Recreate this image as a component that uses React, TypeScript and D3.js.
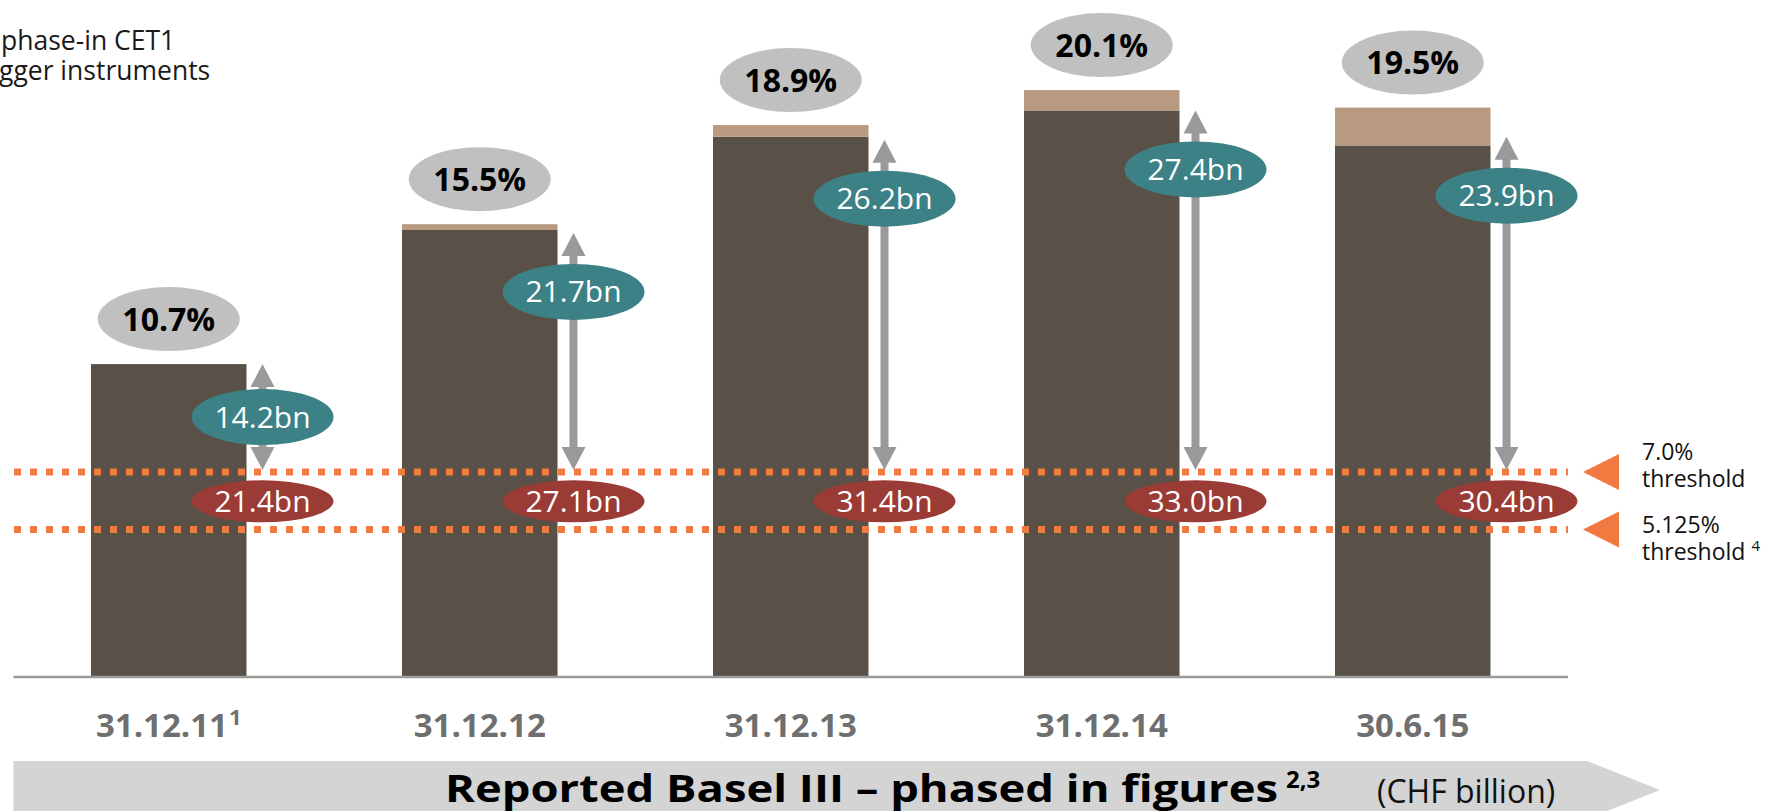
import React from "react";
import * as d3 from "d3";

const categories = ["31.12.11", "31.12.12", "31.12.13", "31.12.14", "30.6.15"];
const categoryNotes = ["1", "", "", "", ""];
const cet1Core = [10.7, 15.3, 18.5, 19.4, 18.2];
const cet1Extra = [0, 0.2, 0.4, 0.7, 1.3];
const bufferTop = [10.7, 15.2, 18.4, 19.4, 18.5];
const bufferBn = [14.2, 21.7, 26.2, 27.4, 23.9];
const thresholdBn = [21.4, 27.1, 31.4, 33.0, 30.4];
const thresholds = [7.0, 5.125];
const thresholdLabels = ["7.0%", "5.125%"];
const thresholdNotes = ["", "4"];
const legendLines = ["phase-in CET1", "gger instruments"];
const bandTitle = "Reported Basel III – phased in figures";
const bandTitleNote = "2,3";
const bandUnit = "(CHF billion)";

const W = 1765;
const H = 811;
const FONT = "'Open Sans', 'Noto Sans', sans-serif";

const C_CORE = "#595047";
const C_EXTRA = "#b89a80";
const C_GRAY_ELL = "#c0c0c0";
const C_TEAL = "#3c8185";
const C_RED = "#9a3c35";
const C_ORANGE = "#f07a3f";
const C_ARROW = "#9a9a9a";

export default function App() {
  const x = d3.scaleBand<string>().domain(categories).range([13.25, 1568.25]).paddingInner(0.5).paddingOuter(0.25);
  const y = d3.scaleLinear().domain([0, 20]).range([676, 93]);
  const bw = x.bandwidth();
  const yT0 = y(thresholds[0]);
  const yT1 = y(thresholds[1]);

  return (
    <svg width={W} height={H} style={{ position: "absolute", left: 0, top: 0, background: "#fff" }} fontFamily={FONT}>
      {/* legend (clipped) */}
      {legendLines.map((t, i) => (
        <text key={t} x={i === 0 ? 1 : -1} y={50 + i * 30} fontSize={26.5} fill="#1a1a1a">{t}</text>
      ))}

      {/* bars */}
      {categories.map((c, i) => {
        const x0 = x(c)!;
        const total = cet1Core[i] + cet1Extra[i];
        return (
          <g key={c}>
            <rect x={x0} width={bw} y={y(cet1Core[i])} height={y(0) - y(cet1Core[i])} fill={C_CORE} />
            {cet1Extra[i] > 0 && (
              <rect x={x0} width={bw} y={y(total)} height={y(cet1Core[i]) - y(total)} fill={C_EXTRA} />
            )}
          </g>
        );
      })}

      {/* axis line */}
      <line x1={13.5} x2={1568} y1={y(0) + 1} y2={y(0) + 1} stroke="#9a9a9a" strokeWidth={2.5} />

      {/* threshold dotted lines */}
      {thresholds.map((t, i) => (
        <line key={t} x1={14} x2={1568} y1={i === 0 ? yT0 : yT1 + 3} y2={i === 0 ? yT0 : yT1 + 3} stroke={C_ORANGE} strokeWidth={7} strokeDasharray="7 9" />
      ))}

      {/* arrows and labels */}
      {categories.map((c, i) => {
        const ax = x(c)! + bw + 16;
        const top = y(bufferTop[i]);
        const bot = yT0 - 2;
        const headH = 23;
        const headW = 12;
        const cy = Math.min((top + bot) / 2, top + 59);
        const total = cet1Core[i] + cet1Extra[i];
        const gy = y(total) - 45;
        const ry = (yT0 + yT1) / 2 + 2;
        return (
          <g key={c + "-ann"}>
            <line x1={ax} x2={ax} y1={top + headH - 1} y2={bot - headH + 1} stroke={C_ARROW} strokeWidth={8} />
            <path d={`M${ax},${top} L${ax + headW},${top + headH} L${ax - headW},${top + headH} Z`} fill={C_ARROW} />
            <path d={`M${ax},${bot} L${ax + headW},${bot - headH} L${ax - headW},${bot - headH} Z`} fill={C_ARROW} />
            <ellipse cx={ax} cy={cy} rx={71} ry={28} fill={C_TEAL} />
            <text x={ax} y={cy + 10.5} textAnchor="middle" fontSize={30} fill="#fff">{bufferBn[i].toFixed(1)}bn</text>
            <ellipse cx={ax} cy={ry} rx={71} ry={21} fill={C_RED} />
            <text x={ax} y={ry + 10.5} textAnchor="middle" fontSize={30} fill="#fff">{thresholdBn[i].toFixed(1)}bn</text>
            <ellipse cx={x(c)! + bw / 2} cy={gy} rx={71} ry={32} fill={C_GRAY_ELL} />
            <text x={x(c)! + bw / 2} y={gy + 11.5} textAnchor="middle" fontSize={32} fontWeight={700} fill="#000">{total.toFixed(1)}%</text>
            <text x={x(c)! + bw / 2} y={737} textAnchor="middle" fontSize={33} fontWeight={700} fill="#6f6f6f">
              {c}
              {categoryNotes[i] && <tspan fontSize={22} dx={1} dy={-12}>{categoryNotes[i]}</tspan>}
            </text>
          </g>
        );
      })}

      {/* threshold markers */}
      {thresholds.map((t, i) => {
        const ty = i === 0 ? yT0 : yT1 + 3;
        const textY = i === 0 ? yT0 - 12 : yT1 + 6;
        return (
          <g key={"m" + t}>
            <path d={`M1583,${ty} L1619,${ty - 18} L1619,${ty + 18} Z`} fill={C_ORANGE} />
            <text x={1642} y={textY} fontSize={23} fill="#111">{thresholdLabels[i]}</text>
            <text x={1642} y={textY + 27} fontSize={23} fill="#111">
              threshold
              {thresholdNotes[i] && <tspan fontSize={15} dx={6} dy={-9}>{thresholdNotes[i]}</tspan>}
            </text>
          </g>
        );
      })}

      {/* bottom band */}
      <path d="M13.5,761 L1587,761 L1660,790 L1587,819 L13.5,819 Z" fill="#d4d4d4" />
      <text x={445} y={802} fontSize={38} fontWeight={700} fill="#000" textLength={833} lengthAdjust="spacingAndGlyphs">
        {bandTitle}
      </text>
      <text x={1286} y={788} fontSize={24} fontWeight={700} fill="#000">{bandTitleNote}</text>
      <text x={1377} y={803} fontSize={32} fill="#111">{bandUnit}</text>
    </svg>
  );
}
